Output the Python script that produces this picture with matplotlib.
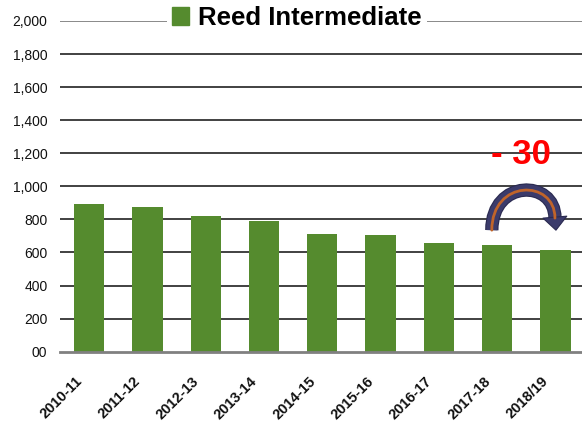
import matplotlib
matplotlib.use("Agg")
import matplotlib.pyplot as plt
import matplotlib.transforms as mtransforms
import matplotlib.patheffects as pe
from matplotlib.patches import Patch, FancyArrowPatch, PathPatch
from matplotlib.path import Path

# ---- data ----
categories = ["2010-11", "2011-12", "2012-13", "2013-14", "2014-15",
              "2015-16", "2016-17", "2017-18", "2018/19"]
enrollment = [894, 876, 820, 792, 713, 706, 657, 645, 615]
series_name = "Reed Intermediate"
y_ticks = [0, 200, 400, 600, 800, 1000, 1200, 1400, 1600, 1800, 2000]
y_tick_labels = ["00", "200", "400", "600", "800", "1,000", "1,200",
                 "1,400", "1,600", "1,800", "2,000"]
change_label = "- 30"

GREEN = "#558B2E"
NAVY = "#3B3B6B"
FONT = ["Liberation Sans", "DejaVu Sans"]
plt.rcParams["font.family"] = FONT

W, H = 582, 421
fig = plt.figure(figsize=(W / 100, H / 100), dpi=100)
ax = fig.add_axes([60 / W, 69.3 / H, (W - 60) / W, (351.7 - 21) / H])

x = list(range(len(categories)))
ax.bar(x, enrollment, width=0.52, color=GREEN, zorder=3)

ax.set_ylim(0, 2000)
ax.set_xlim(-0.5, 8.455)
ax.set_yticks(y_ticks)
ax.set_yticklabels(y_tick_labels, fontsize=10, color="#111111")
ax.set_xticks(x)
ax.set_xticklabels(categories, rotation=45, ha="right", rotation_mode="anchor",
                   fontsize=10.5, fontweight="bold", color="#111111")
ax.tick_params(axis="both", length=0)
ax.tick_params(axis="y", pad=9)
ax.tick_params(axis="x", pad=9)
offset = mtransforms.ScaledTranslation(-14 / 100, -10 / 100, fig.dpi_scale_trans)
for lbl in ax.get_xticklabels():
    lbl.set_transform(lbl.get_transform() + offset)

for t in y_ticks[1:]:
    ax.axhline(t, color="#808080" if t == 2000 else "#333333",
               lw=1.3, zorder=1)
for s in ["top", "right", "left"]:
    ax.spines[s].set_visible(False)
ax.spines["bottom"].set_color("#808080")
ax.spines["bottom"].set_linewidth(2)
ax.spines["bottom"].set_zorder(4)

leg = ax.legend(handles=[Patch(facecolor=GREEN, edgecolor=GREEN)],
                labels=[series_name], loc="center",
                bbox_to_anchor=(297 / W, 1 - 18 / H),
                bbox_transform=fig.transFigure,
                prop={"family": FONT, "size": 18.5, "weight": "bold"},
                frameon=True, facecolor="white", edgecolor="none",
                framealpha=1, handlelength=0.65, handleheight=0.65,
                handletextpad=0.35, borderpad=0.2, borderaxespad=0)
leg.set_zorder(5)

# ---- change annotation: curved arrow between the last two bars ----
i0, i1 = len(enrollment) - 2, len(enrollment) - 1
start = (i0 - 0.092, enrollment[i0] + 90)
ctrl1 = (i0 - 0.092, enrollment[i0] + 400)
ctrl2 = (i1 - 0.009, enrollment[i0] + 400)
neck = (i1 - 0.009, enrollment[i1] + 193)
tip = (i1 + 0.008, enrollment[i1] + 120)

arch = Path([start, ctrl1, ctrl2, neck],
            [Path.MOVETO, Path.CURVE4, Path.CURVE4, Path.CURVE4])
band = PathPatch(arch, facecolor="none", edgecolor=NAVY, lw=8,
                 capstyle="butt", zorder=6,
                 path_effects=[pe.Stroke(linewidth=9.6, foreground="#2A2A50",
                                         capstyle="butt"), pe.Normal()])
ax.add_patch(band)
inner = PathPatch(arch, facecolor="none", edgecolor="#C0642A", lw=2.0,
                  capstyle="round", zorder=7)
ax.add_patch(inner)
head = FancyArrowPatch(neck, tip,
                       arrowstyle="simple,tail_width=0.3,head_width=0.86,head_length=0.47",
                       mutation_scale=20, facecolor=NAVY, edgecolor="#2A2A50",
                       lw=0.8, shrinkA=0, shrinkB=0, zorder=6)
ax.add_patch(head)

ax.text((i0 + i1) / 2 - 0.09, 1190, change_label, color="#FF0000",
        fontsize=25, fontweight="bold", ha="center", va="center", zorder=7)

fig.savefig("out.png", dpi=100)
